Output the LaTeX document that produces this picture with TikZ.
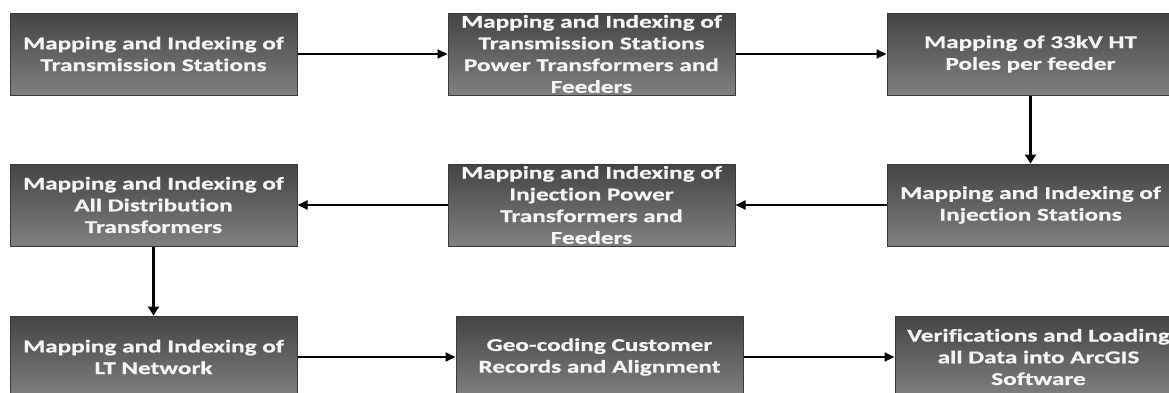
\documentclass[tikz,border=0pt]{standalone}
\usepackage{fontspec}
\setmainfont{Carlito}[FakeStretch=1.4, Ligatures={NoCommon,NoContextual}, BoldFeatures={FakeBold=0.8}]
\usetikzlibrary{arrows.meta}
\definecolor{boxtop}{HTML}{444444}
\definecolor{boxbot}{HTML}{808080}
\definecolor{boxline}{HTML}{3A3A3A}
\definecolor{txtcol}{HTML}{F4F4F4}
\begin{document}
\begin{tikzpicture}[x=1pt,y=-1pt,
  box/.style={draw=boxline, line width=1pt, top color=boxtop, bottom color=boxbot,
    minimum width=287pt, minimum height=82pt, inner sep=0pt},
  txt/.style={text=txtcol, font=\bfseries\fontsize{18}{21.7}\selectfont, align=center, inner sep=0pt},
  arr/.style={line width=2pt, -{Triangle[length=10pt,width=9pt]}},
  varr/.style={line width=3.5pt, -{Triangle[length=9pt,width=11pt]}}]
\useasboundingbox (0,0) rectangle (1169,392);
\clip (0,0) rectangle (1169,392);
% boxes
\node[box] (b1) at (153.5,54) {};
\node[box] (b2) at (591.5,54) {};
\node[box] (b3) at (1030.5,54) {};
\node[box] (b4) at (1030.5,205) {};
\node[box] (b5) at (591.5,205) {};
\node[box] (b6) at (153.5,205) {};
\node[box] (b7) at (153.5,357) {};
\node[box] (b8) at (599.5,357) {};
\node[box] (b9) at (1038.5,357) {};
% texts
\node[txt] (t1) at (b1) {Mapping and Indexing of\\Transmission Stations};
\node[txt] (t2) at (b2) {Mapping and Indexing of\\Transmission Stations\\Power Transformers and\\Feeders};
\node[txt] (t3) at (b3) {Mapping of 33kV HT\\Poles per feeder};
\node[txt] (t4) at (b4) {Mapping and Indexing of\\Injection Stations};
\node[txt] (t5) at (b5) {Mapping and Indexing of\\Injection Power\\Transformers and\\Feeders};
\node[txt] (t6) at (b6) {Mapping and Indexing of\\All Distribution\\Transformers};
\node[txt] (t7) at (b7) {Mapping and Indexing of\\LT Network};
\node[txt] (t8) at (b8) {Geo-coding Customer\\Records and Alignment};
\node[txt] (t9) at (b9) {Verifications and Loading\\all Data into ArcGIS\\Software};
% connectors
\draw[arr] (b1.east) -- (b2.west);
\draw[arr] (b2.east) -- (b3.west);
\draw[varr] (b3.south) -- (b4.north);
\draw[arr] (b4.west) -- (b5.east);
\draw[arr] (b5.west) -- (b6.east);
\draw[varr] (b6.south) -- (b7.north);
\draw[arr] (b7.east) -- (b8.west);
\draw[arr] (b8.east) -- (b9.west);
\end{tikzpicture}
\end{document}
